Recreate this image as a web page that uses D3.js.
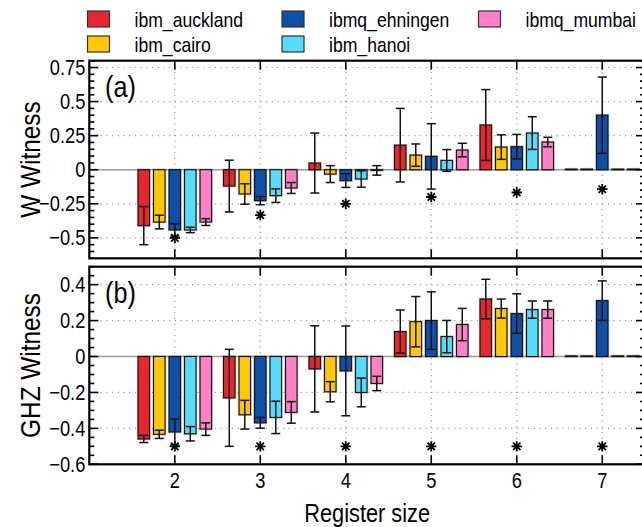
<!DOCTYPE html>
<html><head><meta charset="utf-8">
<script src="https://cdn.jsdelivr.net/npm/d3@7"></script>
<style>body{margin:0;background:#fff}svg{display:block}text{font-family:"Liberation Sans",Arial,sans-serif;fill:#000}</style>
</head><body><svg id="c" width="642" height="527"></svg>
<script>
const categories = [2,3,4,5,6,7];
const devices = ["ibm_auckland","ibm_cairo","ibmq_ehningen","ibm_hanoi","ibmq_mumbai"];
const colors = ["#e8262e","#ffc800","#0e4fa8","#56dcfb","#ff80c8"];

// W witness values (per device, register sizes 2..7) and error half-widths
const wAuckland = [-0.41, -0.12, 0.049, 0.18, 0.328, 0];
const wCairo    = [-0.384, -0.178, -0.032, 0.107, 0.166, 0];
const wEhningen = [-0.442, -0.227, -0.08, 0.098, 0.169, 0.40];
const wHanoi    = [-0.442, -0.19, -0.068, 0.068, 0.269, 0];
const wMumbai   = [-0.384, -0.134, -0.005, 0.144, 0.203, 0];
const wErrAuckland = [0.14, 0.19, 0.22, 0.27, 0.26, 0];
const wErrCairo    = [0.05, 0.075, 0.062, 0.082, 0.09, 0];
const wErrEhningen = [0.045, 0.03, 0.05, 0.24, 0.09, 0.28];
const wErrHanoi    = [0.02, 0.05, 0.06, 0.08, 0.12, 0];
const wErrMumbai   = [0.025, 0.04, 0.035, 0.05, 0.035, 0];
const wStar = [-0.5, -0.333, -0.25, -0.2, -0.167, -0.143];

// GHZ witness values and error half-widths
const gAuckland = [-0.459, -0.23, -0.069, 0.139, 0.32, 0];
const gCairo    = [-0.433, -0.324, -0.196, 0.194, 0.267, 0];
const gEhningen = [-0.42, -0.369, -0.08, 0.2, 0.239, 0.311];
const gHanoi    = [-0.43, -0.339, -0.2, 0.111, 0.261, 0];
const gMumbai   = [-0.404, -0.311, -0.15, 0.178, 0.261, 0];
const gErrAuckland = [0.02, 0.27, 0.24, 0.12, 0.11, 0];
const gErrCairo    = [0.023, 0.08, 0.056, 0.14, 0.053, 0];
const gErrEhningen = [0.072, 0.03, 0.25, 0.16, 0.11, 0.11];
const gErrHanoi    = [0.04, 0.09, 0.08, 0.09, 0.048, 0];
const gErrMumbai   = [0.035, 0.06, 0.04, 0.09, 0.048, 0];
const gStar = [-0.5, -0.5, -0.5, -0.5, -0.5, -0.5];

const wTicks = [-0.5, -0.25, 0, 0.25, 0.5, 0.75];
const gTicks = [-0.6, -0.4, -0.2, 0, 0.2, 0.4];
const panelLabels = ["(a)", "(b)"];
const yTitles = ["W Witness", "GHZ Witness"];
const xTitle = "Register size";

const svg = d3.select("#c");
const L = 89.3, R = 645;
const x = d3.scaleLinear().domain([1, 7.5]).range([L, R]);
const inner = d3.scaleBand().domain(devices).range([-38.75, 38.75]).paddingInner(0.26).paddingOuter(0.13);
const fmt = v => (v < 0 ? "\u2212" : "") + String(Math.abs(v));

// condensed text helper
function txt(parent, tx, ty, s, size, sx, anchor, rot) {
  return parent.append("text")
    .attr("transform", `translate(${tx},${ty})${rot ? ` rotate(${rot})` : ""} scale(${sx},1)`)
    .attr("text-anchor", anchor || "start").attr("font-size", size).text(s);
}
function starPath(r) {
  const p = d3.path();
  for (let k = 0; k < 4; k++) {
    const a = k * Math.PI / 4;
    p.moveTo(-r * Math.cos(a), -r * Math.sin(a));
    p.lineTo(r * Math.cos(a), r * Math.sin(a));
  }
  return p.toString();
}

const panels = [
  {top: 60.7, bottom: 258.3, domain: [-0.65, 0.8], ticks: wTicks,
   vals: [wAuckland, wCairo, wEhningen, wHanoi, wMumbai],
   errs: [wErrAuckland, wErrCairo, wErrEhningen, wErrHanoi, wErrMumbai], star: wStar},
  {top: 266.7, bottom: 464.3, domain: [-0.6, 0.5], ticks: gTicks,
   vals: [gAuckland, gCairo, gEhningen, gHanoi, gMumbai],
   errs: [gErrAuckland, gErrCairo, gErrEhningen, gErrHanoi, gErrMumbai], star: gStar}
];

panels.forEach((p, pi) => {
  const y = d3.scaleLinear().domain(p.domain).range([p.bottom, p.top]);
  const g = svg.append("g");
  // grid
  p.ticks.filter(t => t !== 0 && y(t) > p.top + 1 && y(t) < p.bottom - 1).forEach(t => {
    g.append("line").attr("x1", L).attr("x2", R).attr("y1", y(t)).attr("y2", y(t))
      .attr("stroke", "#999").attr("stroke-width", 1.2).attr("stroke-dasharray", "1.2,4.5");
  });
  categories.forEach(c => {
    g.append("line").attr("x1", x(c)).attr("x2", x(c)).attr("y1", p.top).attr("y2", p.bottom)
      .attr("stroke", "#999").attr("stroke-width", 1.2).attr("stroke-dasharray", "1.2,4.5");
  });
  // zero line
  g.append("line").attr("x1", L).attr("x2", R).attr("y1", y(0)).attr("y2", y(0))
    .attr("stroke", "#999").attr("stroke-width", 1.6);
  // bars
  devices.forEach((d, di) => {
    categories.forEach((c, ci) => {
      const v = p.vals[di][ci];
      const bx = x(c) + inner(d);
      const h = Math.max(Math.abs(y(v) - y(0)), 0.6);
      const by = v >= 0 ? y(0) - h : y(0);
      g.append("rect").attr("x", bx).attr("width", inner.bandwidth())
        .attr("y", by).attr("height", h)
        .attr("fill", colors[di]).attr("stroke", "#555").attr("stroke-width", 2.4).attr("stroke-opacity", 0.4);
      g.append("rect").attr("x", bx).attr("width", inner.bandwidth())
        .attr("y", by).attr("height", h)
        .attr("fill", colors[di]).attr("stroke", "#111").attr("stroke-width", 1.1);
    });
  });
  // error bars
  devices.forEach((d, di) => {
    categories.forEach((c, ci) => {
      const v = p.vals[di][ci], e = p.errs[di][ci];
      if (!e) return;
      const cx = x(c) + inner(d) + inner.bandwidth() / 2;
      const eg = g.append("g").attr("stroke", "#111").attr("stroke-width", 1.5);
      eg.append("line").attr("x1", cx).attr("x2", cx).attr("y1", y(v - e)).attr("y2", y(v + e));
      [v - e, v + e].forEach(t => eg.append("line").attr("x1", cx - 4.5).attr("x2", cx + 4.5).attr("y1", y(t)).attr("y2", y(t)));
    });
  });
  // stars
  categories.forEach((c, ci) => {
    g.append("path").attr("d", starPath(5.2))
      .attr("transform", `translate(${x(c)},${y(p.star[ci])})`)
      .attr("stroke", "#000").attr("stroke-width", 1.8).attr("fill", "none");
  });
  // ticks
  const minor = d3.range(Math.ceil(p.domain[0] / 0.05 - 1e-6), Math.floor(p.domain[1] / 0.05 + 1e-6) + 1).map(k => +(k * 0.05).toFixed(2));
  minor.forEach(t => {
    const major = p.ticks.some(m => Math.abs(m - t) < 1e-6);
    const len = major ? 9 : 5;
    [[L, L + len], [R, R - len]].forEach(([a, b]) =>
      g.append("line").attr("x1", a).attr("x2", b).attr("y1", y(t)).attr("y2", y(t)).attr("stroke", "#000").attr("stroke-width", 1.6));
  });
  categories.forEach(c => {
    [[p.top, p.top + 9], [p.bottom, p.bottom - 9]].forEach(([a, b]) =>
      g.append("line").attr("x1", x(c)).attr("x2", x(c)).attr("y1", a).attr("y2", b).attr("stroke", "#000").attr("stroke-width", 1.6));
  });
  // frame
  g.append("rect").attr("x", L).attr("y", p.top).attr("width", R - L).attr("height", p.bottom - p.top)
    .attr("fill", "none").attr("stroke", "#000").attr("stroke-width", 2.2);
  // tick labels
  p.ticks.forEach(t => {
    txt(g, L - 4, y(t) + 7.6, fmt(t), 21.5, 0.85, "end");
  });
  txt(g, 105, p.top + 36, panelLabels[pi], 29, 0.87, "start");
  txt(g, 40, (p.top + p.bottom) / 2, yTitles[pi], 28, 0.87, "middle", -90);
});

categories.forEach(c => {
  txt(svg, x(c), 488, String(c), 21.5, 0.85, "middle");
});
txt(svg, (L + R) / 2, 522, xTitle, 25, 0.87, "middle");

// legend
const legPos = [[87.5, 11], [87.5, 36], [282, 11], [282, 36], [478.5, 11]];
devices.forEach((d, di) => {
  const [lx, ly] = legPos[di];
  svg.append("rect").attr("x", lx).attr("y", ly).attr("width", 22).attr("height", 16)
    .attr("fill", colors[di]).attr("stroke", "#333").attr("stroke-width", 1.2);
  txt(svg, lx + 47, ly + 15.5, d, 20, 0.88, "start");
});
</script></body></html>
